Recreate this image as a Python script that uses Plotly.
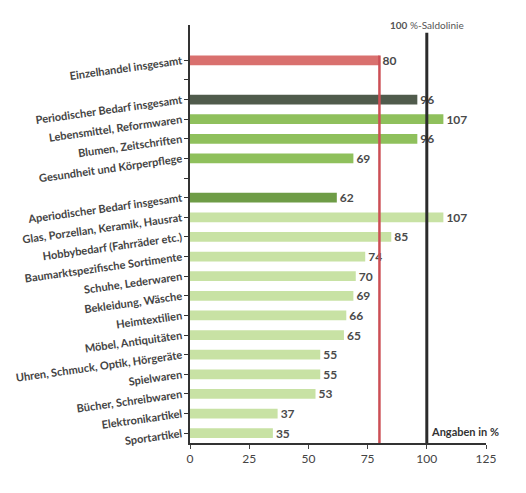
import plotly.graph_objects as go

# Categories (blank entries are spacer rows between groups)
categories = [
    "Einzelhandel insgesamt",
    " ",
    "Periodischer Bedarf insgesamt",
    "Lebensmittel, Reformwaren",
    "Blumen, Zeitschriften",
    "Gesundheit und Körperpflege",
    "  ",
    "Aperiodischer Bedarf insgesamt",
    "Glas, Porzellan, Keramik, Hausrat",
    "Hobbybedarf (Fahrräder etc.)",
    "Baumarktspezifische Sortimente",
    "Schuhe, Lederwaren",
    "Bekleidung, Wäsche",
    "Heimtextilien",
    "Möbel, Antiquitäten",
    "Uhren, Schmuck, Optik, Hörgeräte",
    "Spielwaren",
    "Bücher, Schreibwaren",
    "Elektronikartikel",
    "Sportartikel",
]
values = [80, None, 96, 107, 96, 69, None, 62, 107, 85, 74, 70, 69, 66, 65, 55, 55, 53, 37, 35]
groups = ["total", None, "sum", "per", "per", "per", None, "sumA",
          "aper", "aper", "aper", "aper", "aper", "aper", "aper", "aper",
          "aper", "aper", "aper", "aper"]

x_ticks = [0, 25, 50, 75, 100, 125]
saldo_level = 100
average_level = 80

palette = {
    "total": "#d9706e",
    "sum": "#505b4c",
    "per": "#8fc05c",
    "sumA": "#6e9c46",
    "aper": "#c8e2a4",
    None: "rgba(0,0,0,0)",
}
colors = [palette[g] for g in groups]

text_font = "Lato, Carlito, Liberation Sans, sans-serif"

fig = go.Figure()
fig.add_trace(go.Bar(
    y=categories,
    x=values,
    orientation="h",
    marker=dict(color=colors, line=dict(width=0)),
    text=[("" if v is None else str(v)) for v in values],
    textposition="outside",
    constraintext="none",
    textfont=dict(family=text_font, size=12, color="#4a4a4a", weight="bold"),
    cliponaxis=False,
    width=0.5,
    hoverinfo="skip",
))

n = len(categories)
# 100 %-Saldolinie
fig.add_shape(type="line", xref="x", yref="y",
              x0=saldo_level, x1=saldo_level, y0=-1.4, y1=n - 0.5,
              line=dict(color="#2b2b2b", width=3))
# average line for the retail total
fig.add_shape(type="line", xref="x", yref="y",
              x0=average_level, x1=average_level, y0=-0.25, y1=n - 0.5,
              line=dict(color="#cc4f55", width=2.5))

fig.add_annotation(x=saldo_level, y=-1.4, xref="x", yref="y",
                   text="<b>100</b> %-Saldolinie", showarrow=False,
                   xanchor="center", yanchor="bottom",
                   font=dict(family=text_font, size=10, color="#555555"))
fig.add_annotation(x=saldo_level + 1, y=n - 0.5, xref="x", yref="y",
                   text="<b>Angaben in %</b>", showarrow=False,
                   xanchor="left", yanchor="bottom", yshift=3,
                   font=dict(family=text_font, size=11, color="#333333"))

fig.update_layout(
    width=526, height=493,
    margin=dict(l=190, r=40, t=25, b=50),
    paper_bgcolor="white",
    plot_bgcolor="white",
    showlegend=False,
    bargap=0.5,
    font=dict(family=text_font, color="#444444"),
)
fig.update_xaxes(
    range=[0, 125], tickvals=x_ticks, ticks="outside", ticklen=4,
    showgrid=False, zeroline=False, showline=True, linecolor="#333333", linewidth=2,
    tickfont=dict(family=text_font, size=12, color="#444444"),
)
fig.update_yaxes(
    categoryorder="array", categoryarray=categories,
    range=[n - 0.5, -1.8], ticks="outside", ticklen=4, tickcolor="#333333",
    showgrid=False, zeroline=False, showline=True, linecolor="#333333", linewidth=2,
    tickangle=-8,
    tickfont=dict(family=text_font, size=11, color="#444444", weight="bold"),
)

fig.write_html("out.html")
